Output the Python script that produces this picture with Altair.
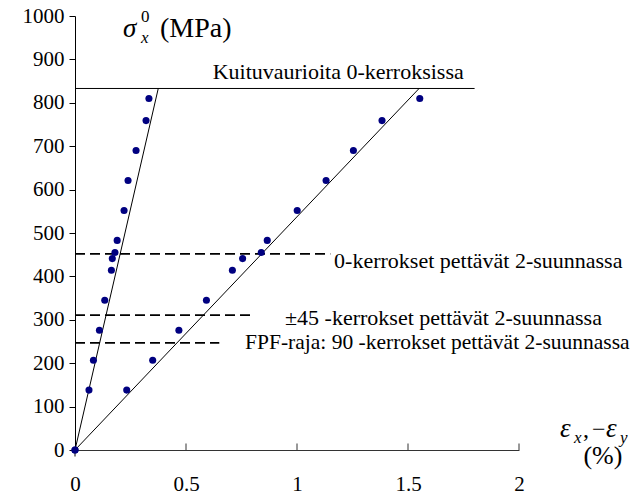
import altair as alt
import pandas as pd

# --- data ---
stress = [0, 138, 207, 276, 345, 414, 441, 455, 483, 552, 621, 690, 759, 810]
eps_y = [0, 0.063, 0.083, 0.11, 0.134, 0.164, 0.168, 0.18, 0.19, 0.221, 0.239, 0.275, 0.32, 0.333]
eps_x = [0, 0.233, 0.35, 0.468, 0.592, 0.709, 0.755, 0.839, 0.866, 1.001, 1.131, 1.254, 1.383, 1.553]

# solid lines (fits and fibre-failure level): start/end points
solid_x = [0, 0, 0]
solid_y = [0, 0, 833]
solid_x2 = [0.375, 1.55, 1.8]
solid_y2 = [833, 833, 833]

# dashed failure levels
dash_level = [452, 311, 247]
dash_end = [1.15, 0.80, 0.65]

# annotations
ann_text = ["Kuituvaurioita 0-kerroksissa",
            "0-kerrokset pettävät 2-suunnassa",
            "±45 -kerrokset pettävät 2-suunnassa",
            "FPF-raja: 90 -kerrokset pettävät 2-suunnassa"]
ann_x = [0.62, 1.167, 0.946, 0.766]
ann_y = [855, 419, 288, 232]
ann_size = [22, 22, 22, 21.5]

FONT = "Liberation Serif"

pts = pd.DataFrame({"e": eps_y + eps_x, "s": stress + stress})
solid = pd.DataFrame({"x": solid_x, "y": solid_y, "x2": solid_x2, "y2": solid_y2})
dashed = pd.DataFrame({"x": [0] * 3, "x2": dash_end, "y": dash_level})
ann = pd.DataFrame({"t": ann_text, "x": ann_x, "y": ann_y, "sz": ann_size})

xs = alt.Scale(domain=[0, 2], nice=False)
ys = alt.Scale(domain=[0, 1000], nice=False)

base_x = alt.X("x:Q", scale=xs,
               axis=alt.Axis(values=[0, 0.5, 1, 1.5, 2], title=None, grid=False,
                             tickSize=0, labelPadding=23, labelFont=FONT,
                             labelFontSize=21, labelColor="black",
                             domainColor="#333333", labelFlush=False,
                             labelExpr="datum.value == 0 ? '0' : format(datum.value, '')"))
base_y = alt.Y("y:Q", scale=ys,
               axis=alt.Axis(values=list(range(0, 1001, 100)), title=None, grid=False,
                             tickSize=6, tickColor="black", labelPadding=5, format="d",
                             labelFont=FONT, labelFontSize=21, labelColor="black",
                             domainColor="black", labelFlush=False))

solid_layer = alt.Chart(solid).mark_rule(color="black", strokeWidth=1).encode(
    x=base_x, y=base_y, x2="x2:Q", y2="y2:Q")

dash_layer = alt.Chart(dashed).mark_rule(color="black", strokeWidth=1.7, strokeDash=[10, 5]).encode(
    x="x:Q", x2="x2:Q", y="y:Q")

# inward x ticks
xt = pd.DataFrame({"x": [0.5, 1, 1.5, 2], "y": [0] * 4, "y2": [15] * 4})
tick_layer = alt.Chart(xt).mark_rule(color="#333333", strokeWidth=1).encode(
    x="x:Q", y="y:Q", y2="y2:Q")
xt0 = pd.DataFrame({"x": [0], "y": [0], "y2": [-15]})
tick0_layer = alt.Chart(xt0).mark_rule(color="black", strokeWidth=1).encode(
    x="x:Q", y="y:Q", y2="y2:Q")

pt_layer = alt.Chart(pts).mark_circle(color="#000080", opacity=1, size=50).encode(
    x="e:Q", y="s:Q")

ann_layers = []
for sz in sorted(set(ann_size)):
    ann_layers.append(
        alt.Chart(ann[ann.sz == sz]).mark_text(font=FONT, fontSize=sz, align="left",
                                               baseline="alphabetic", color="black").encode(
            x="x:Q", y="y:Q", text="t:N"))

# axis titles composed of pieces
title_txt = ["σ", "x", "0", "(MPa)", "ε", "x", ",", "−", "ε", "y"]
title_x = [0.216, 0.297, 0.297, 0.383, 2.185, 2.248, 2.288, 2.329, 2.392, 2.455]
title_y = [952, 938, 986, 952, 30, 16, 30, 30, 30, 16]
title_size = [27, 17, 17, 28, 27, 17, 24, 24, 27, 17]
title_style = ["italic", "italic", "normal", "normal", "italic", "italic", "normal",
               "normal", "italic", "italic"]
titles = pd.DataFrame({"t": title_txt, "x": title_x, "y": title_y,
                       "sz": title_size, "st": title_style})

pct = pd.DataFrame({"t": ["(%)"], "x": [2.378], "y": [-33]})
pct_layer = alt.Chart(pct).mark_text(font=FONT, fontSize=26, align="center",
                                     baseline="alphabetic", color="black").encode(
    x="x:Q", y="y:Q", text="t:N")

title_layers = []
for st in ["italic", "normal"]:
    for sz in sorted(set(title_size)):
        sub = titles[(titles.st == st) & (titles.sz == sz)]
        if len(sub) == 0:
            continue
        title_layers.append(
            alt.Chart(sub).mark_text(font=FONT, fontSize=sz, fontStyle=st, align="left",
                                     baseline="alphabetic", color="black").encode(
                x="x:Q", y="y:Q", text="t:N"))

chart = alt.layer(solid_layer, dash_layer, tick_layer, tick0_layer, pt_layer, *ann_layers,
                  pct_layer, *title_layers).properties(
    width=444, height=434,
    autosize=alt.AutoSizeParams(type="none"),
    padding={"left": 67, "top": 8, "right": 113, "bottom": 48},
    background="white",
).configure_view(stroke=None).configure_axis(labelFont=FONT)

chart.save("out.html", embed_options={"renderer": "svg", "actions": False})
